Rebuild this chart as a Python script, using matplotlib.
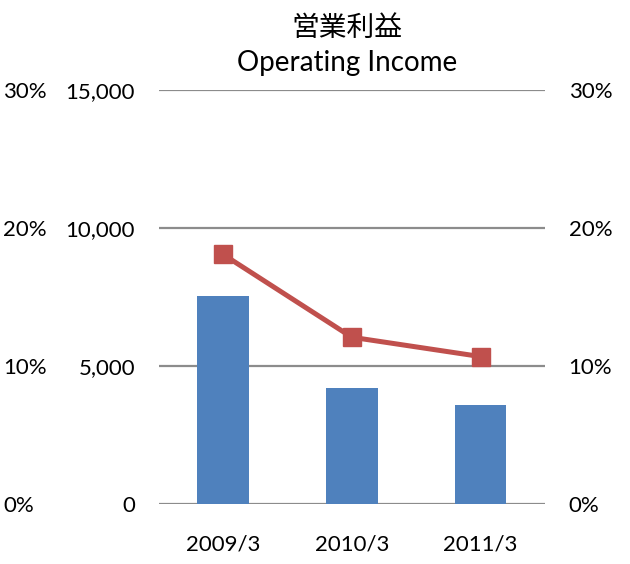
import numpy as np
import matplotlib.pyplot as plt

plt.rcParams['font.family'] = ['Lato', 'Noto Sans CJK JP', 'DejaVu Sans']

periods = ['2009/3', '2010/3', '2011/3']
operating_income = [7540, 4210, 3600]
margin_pct = [18.1, 12.1, 10.7]

value_ticks = [0, 5000, 10000, 15000]
pct_ticks = [0, 10, 20, 30]

bar_color = '#4F81BD'
line_color = '#C0504D'
grid_color = '#8C8C8C'

fig = plt.figure(figsize=(6.3, 5.64), dpi=100)
ax = fig.add_axes([0.252, 0.106, 0.613, 0.734])

x = np.arange(len(periods))
ax.bar(x, operating_income, width=0.4, color=bar_color, zorder=2)
ax.set_xlim(-0.5, len(periods) - 0.5)
ax.set_ylim(0, 15000)
ax.set_yticks(value_ticks)
ax.set_yticklabels([f'{v:,}' for v in value_ticks])
ax.set_xticks(x)
ax.set_xticklabels(periods)
ax.tick_params(axis='y', length=0, pad=17, labelsize=16)
ax.tick_params(axis='x', length=0, pad=22, labelsize=16)
for v in value_ticks:
    ax.axhline(v, color=grid_color, linewidth=1.6, zorder=1)
for s in ax.spines.values():
    s.set_visible(False)

# percent axis on the right (carries the line)
ax2 = ax.twinx()
ax2.plot(x, margin_pct, color=line_color, linewidth=3.6, marker='s',
         markersize=13, zorder=3)
ax2.set_ylim(0, 30)
ax2.set_yticks(pct_ticks)
ax2.set_yticklabels([f'{p}%' for p in pct_ticks])
ax2.tick_params(axis='y', length=0, pad=17, labelsize=16)
for s in ax2.spines.values():
    s.set_visible(False)

# same percent scale repeated at the far left
ax3 = ax.twinx()
ax3.set_ylim(0, 30)
ax3.yaxis.tick_left()
ax3.set_yticks(pct_ticks)
ax3.set_yticklabels([f'{p}%' for p in pct_ticks])
ax3.tick_params(axis='y', length=0, pad=112, labelsize=16)
for lbl in ax3.get_yticklabels():
    lbl.set_horizontalalignment('left')
for s in ax3.spines.values():
    s.set_visible(False)

fig.text(0.551, 0.95, '営業利益', ha='center', va='center', fontsize=20)
fig.text(0.551, 0.888, 'Operating Income', ha='center', va='center', fontsize=20)

fig.savefig('out.png', dpi=100)
